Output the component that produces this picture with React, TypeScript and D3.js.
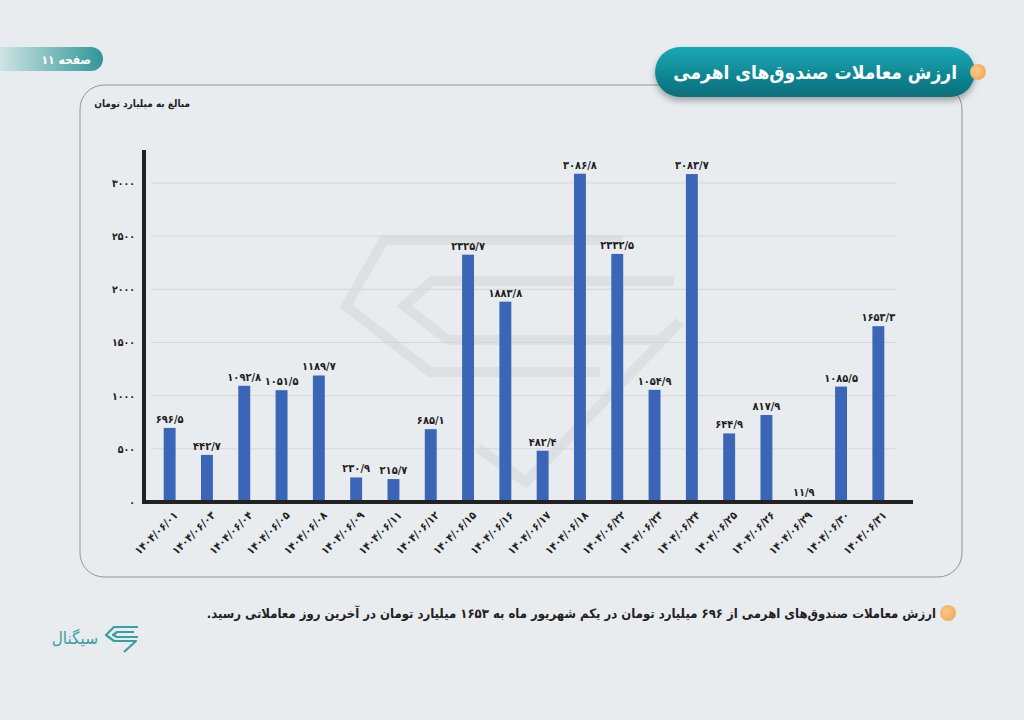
import React from 'react';
import * as d3 from 'd3';

// values in billion toman, Shahrivar 1404
const dates = [
  '1404/06/01', '1404/06/03', '1404/06/04', '1404/06/05', '1404/06/08',
  '1404/06/09', '1404/06/11', '1404/06/12', '1404/06/15', '1404/06/16',
  '1404/06/17', '1404/06/18', '1404/06/22', '1404/06/23', '1404/06/24',
  '1404/06/25', '1404/06/26', '1404/06/29', '1404/06/30', '1404/06/31',
];
const values = [
  696.5, 442.7, 1092.8, 1051.5, 1189.7,
  230.9, 215.7, 685.1, 2325.7, 1883.8,
  482.4, 3086.8, 2332.5, 1054.9, 3083.7,
  644.9, 817.9, 11.9, 1085.5, 1653.3,
];
const yTicks = [0, 500, 1000, 1500, 2000, 2500, 3000];

const title = 'ارزش معاملات صندوق‌های اهرمی';
const pageLabel = 'صفحه ۱۱';
const yTitle = 'مبالغ به میلیارد تومان';
const footnote = 'ارزش معاملات صندوق‌های اهرمی از ۶۹۶ میلیارد تومان در یکم شهریور ماه به ۱۶۵۳ میلیارد تومان در آخرین روز معاملاتی رسید.';
const brand = 'سیگنال';

const FONT = '"DejaVu Sans Condensed", "DejaVu Sans", sans-serif';
const fa = (s: string) => s.replace(/\d/g, d => '۰۱۲۳۴۵۶۷۸۹'[+d]);
const fmtVal = (v: number) => fa(v.toFixed(1).replace('.', '/'));

const W = 1024;
const H = 720;
const plot = { left: 151, right: 897, top: 150, bottom: 502 };

const App: React.FC = () => {
  const x = d3.scaleBand<string>()
    .domain(dates)
    .range([plot.left, plot.right])
    .paddingInner(0.68)
    .paddingOuter(0.34);

  const y = d3.scaleLinear()
    .domain([0, 3310])
    .range([plot.bottom, plot.top]);

  return (
    <svg width={W} height={H} style={{ position: 'absolute', left: 0, top: 0, fontFamily: FONT }}>
      <defs>
        <linearGradient id="titleGrad" x1="0" y1="0" x2="0" y2="1">
          <stop offset="0%" stopColor="#17a9b6" />
          <stop offset="100%" stopColor="#0b6d79" />
        </linearGradient>
        <linearGradient id="pageGrad" x1="0" y1="0" x2="1" y2="0">
          <stop offset="0%" stopColor="#e4eeee" />
          <stop offset="100%" stopColor="#2f9699" />
        </linearGradient>
        <radialGradient id="dotGrad" cx="0.4" cy="0.4" r="0.7">
          <stop offset="0%" stopColor="#fbc98a" />
          <stop offset="100%" stopColor="#f1a65a" />
        </radialGradient>
        <filter id="shadow" x="-10%" y="-30%" width="120%" height="170%">
          <feDropShadow dx="0" dy="4" stdDeviation="3" floodColor="#000" floodOpacity="0.3" />
        </filter>
      </defs>

      <rect width={W} height={H} fill="#e9ecee" />

      {/* card */}
      <rect x={80} y={85} width={882} height={492} rx={24} fill="#e9ecee" stroke="#8f959a" strokeWidth={1} />

      {/* watermark */}
      <g fill="none" stroke="#dde0e3" strokeWidth={10} strokeLinejoin="miter">
        <path d="M622 240 L384 240 L346 306 L430 372 L600 372" />
        <path d="M674 281 L432 281 L404 306 L448 340 L660 340 L680 322" />
        <path d="M680 322 L526 482 L478 448" />
      </g>

      {/* gridlines */}
      <g>
        {yTicks.filter(t => t > 0).map(t => (
          <line key={t} x1={plot.left} x2={plot.right} y1={y(t)} y2={y(t)} stroke="#d3d7da" strokeWidth={1} />
        ))}
      </g>

      {/* bars */}
      <g>
        {dates.map((d, i) => (
          <rect
            key={d}
            x={x(d)}
            y={y(values[i])}
            width={x.bandwidth()}
            height={plot.bottom - y(values[i])}
            fill="#3b66b8"
          />
        ))}
      </g>

      {/* value labels */}
      <g fontSize={11} fontWeight="bold" fill="#1e1e1e" textAnchor="middle">
        {dates.map((d, i) => (
          <text key={d} x={(x(d) ?? 0) + x.bandwidth() / 2} y={y(values[i]) - 5}>
            {fmtVal(values[i])}
          </text>
        ))}
      </g>

      {/* axes */}
      <line x1={144} x2={144} y1={plot.top} y2={plot.bottom + 2} stroke="#222" strokeWidth={4} />
      <line x1={142} x2={913} y1={plot.bottom} y2={plot.bottom} stroke="#222" strokeWidth={4} />

      <g fontSize={10.5} fontWeight="bold" fill="#222" textAnchor="end">
        {yTicks.map(t => (
          <text key={t} x={135} y={y(t) + 4}>{fa(String(t))}</text>
        ))}
      </g>

      <g fontSize={11} fontWeight="bold" fill="#222" textAnchor="end">
        {dates.map(d => {
          const cx = (x(d) ?? 0) + x.bandwidth() / 2 + 9;
          return (
            <text key={d} transform={`translate(${cx},${plot.bottom + 14}) rotate(-45)`}>
              {fa(d)}
            </text>
          );
        })}
      </g>

      <text x={190} y={107} fontSize={10} fontWeight="bold" fill="#1e1e1e" textAnchor="end">{yTitle}</text>

      {/* title pill */}
      <rect x={655} y={47} width={320} height={50} rx={25} fill="url(#titleGrad)" filter="url(#shadow)" />
      <text x={957} y={79} fontSize={19} fontWeight="bold" fill="#fff" textAnchor="end">{title}</text>
      <circle cx={978} cy={72} r={8} fill="url(#dotGrad)" />

      {/* page pill */}
      <rect x={-14} y={47} width={117} height={24} rx={12} fill="url(#pageGrad)" />
      <text x={91} y={64} fontSize={12} fontWeight="bold" fill="#fff" textAnchor="end">{pageLabel}</text>

      {/* footnote */}
      <circle cx={948} cy={613} r={8} fill="url(#dotGrad)" />
      <text x={936} y={618} fontSize={13} fontWeight="bold" fill="#222" direction="rtl" textAnchor="start">{footnote}</text>

      {/* brand */}
      <text x={98} y={644} fontSize={17} fill="#3a9ea3" textAnchor="end">{brand}</text>
      <g fill="none" stroke="#3a9ea3" strokeWidth={2.2} strokeLinejoin="round">
        <path d="M138 627 L114 627 L106 635 L114 641 L136 641 L124 652" />
        <path d="M134 632 L117 632 L113 635 L117 637 L138 637" />
      </g>
    </svg>
  );
};

export default App;
